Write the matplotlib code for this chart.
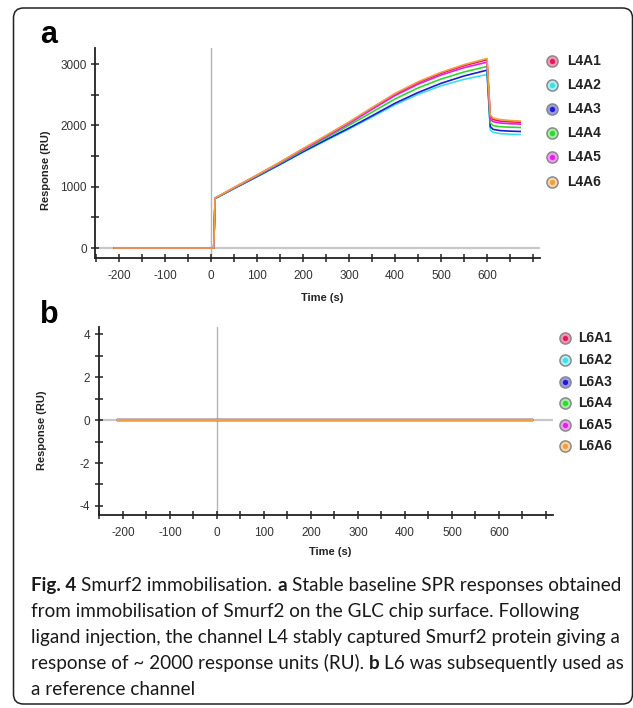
import matplotlib
matplotlib.use('Agg')
import matplotlib.pyplot as plt
from matplotlib.lines import Line2D
from matplotlib.patches import FancyBboxPatch
from matplotlib.ticker import FixedLocator
from matplotlib.transforms import IdentityTransform
from matplotlib.colors import to_rgb

plt.rcParams['font.family'] = ['Liberation Sans', 'DejaVu Sans']
plt.rcParams['axes.unicode_minus'] = False

W, H = 633, 708

# panel a - ligand channel L4 sensorgram (RU vs s)
time_a = [-210, 6, 9, 50, 100, 150, 200, 250, 300, 350, 400, 450, 500, 550, 600,
          607, 613, 628, 648, 672]
l4a1 = [0, 0, 813, 982, 1186, 1395, 1613, 1826, 2044, 2277, 2505, 2694, 2848, 2972, 3070,
        2145, 2095, 2070, 2058, 2050]
l4a2 = [0, 0, 805, 967, 1160, 1358, 1560, 1750, 1940, 2135, 2335, 2505, 2645, 2750, 2830,
        1925, 1885, 1865, 1856, 1850]
l4a3 = [0, 0, 807, 970, 1165, 1365, 1570, 1765, 1955, 2155, 2360, 2535, 2685, 2805, 2900,
        1980, 1935, 1915, 1906, 1900]
l4a4 = [0, 0, 809, 975, 1175, 1380, 1590, 1795, 2000, 2215, 2430, 2610, 2755, 2870, 2960,
        2040, 1995, 1978, 1970, 1965]
l4a5 = [0, 0, 812, 980, 1182, 1390, 1605, 1815, 2030, 2260, 2485, 2670, 2820, 2940, 3030,
        2100, 2060, 2038, 2027, 2020]
l4a6 = [0, 0, 815, 985, 1190, 1400, 1620, 1835, 2055, 2290, 2520, 2710, 2865, 2990, 3090,
        2170, 2120, 2095, 2080, 2070]
labels_a = ['L4A1', 'L4A2', 'L4A3', 'L4A4', 'L4A5', 'L4A6']

# panel b - reference channel L6 (flat)
time_b = [-210, 670]
l6a1 = [0, 0]
l6a2 = [0, 0]
l6a3 = [0, 0]
l6a4 = [0, 0]
l6a5 = [0, 0]
l6a6 = [0, 0]
labels_b = ['L6A1', 'L6A2', 'L6A3', 'L6A4', 'L6A5', 'L6A6']

colors = ['#e8175d', '#3ee0e6', '#1c1cd0', '#2fd82f', '#e81ee8', '#f0a040']


def box(l, t, r, b):
    return [l / W, 1 - b / H, (r - l) / W, (b - t) / H]


def fx(px):
    return px / W


def fy(py):
    return 1 - py / H


def tint(c, k=0.55):
    r, g, b = to_rgb(c)
    return (r + (1 - r) * k, g + (1 - g) * k, b + (1 - b) * k)


fig = plt.figure(figsize=(W / 100, H / 100), dpi=100)

ax_a = fig.add_axes(box(95, 48, 539.5, 258))
ax_b = fig.add_axes(box(98.5, 327, 552.5, 515))

for ax in (ax_a, ax_b):
    ax.spines['top'].set_visible(False)
    ax.spines['right'].set_visible(False)
    for s in ('left', 'bottom'):
        ax.spines[s].set_linewidth(1.3)
        ax.spines[s].set_color('#222222')
    ax.set_xlim(-252, 714)
    ax.xaxis.set_major_locator(FixedLocator(range(-200, 601, 100)))
    ax.xaxis.set_minor_locator(FixedLocator([-250, -150, -50, 50, 150, 250, 350, 450, 550, 650, 700]))
    ax.tick_params(which='both', direction='inout', length=6, width=1.1,
                   color='#222222', labelcolor='#333333', labelsize=8.5)
    ax.tick_params(axis='x', pad=6)
    ax.tick_params(axis='y', pad=3)
    ax.axhline(0, color='#c8c8c8', lw=1.6, zorder=0)
    ax.axvline(0, color='#b4b4b4', lw=1.0, zorder=0)

ax_a.set_ylim(-163, 3261)
ax_a.yaxis.set_major_locator(FixedLocator([0, 1000, 2000, 3000]))
ax_a.yaxis.set_minor_locator(FixedLocator([500, 1500, 2500]))
for ys, c in zip([l4a1, l4a2, l4a3, l4a4, l4a5, l4a6], colors):
    ax_a.plot(time_a, ys, color=c, lw=1.2, solid_joinstyle='round')

ax_b.set_ylim(-4.42, 4.33)
ax_b.yaxis.set_major_locator(FixedLocator([-4, -2, 0, 2, 4]))
ax_b.yaxis.set_minor_locator(FixedLocator([-3, -1, 1, 3]))
for ys, c in zip([l6a1, l6a2, l6a3, l6a4, l6a5, l6a6], colors):
    ax_b.plot(time_b, ys, color=c, lw=1.6)

# axis titles
lab_kw = dict(fontsize=8, fontweight='bold', color='#222222', ha='center', va='center')
fig.text(fx(46), fy(170), 'Response (RU)', rotation=90, **lab_kw)
fig.text(fx(42), fy(430), 'Response (RU)', rotation=90, **lab_kw)
fig.text(fx(322), fy(298), 'Time (s)', **lab_kw)
fig.text(fx(330), fy(552), 'Time (s)', **lab_kw)

# panel letters
fig.text(fx(40), fy(43), 'a', fontsize=22, fontweight='bold', va='baseline')
fig.text(fx(40), fy(323), 'b', fontsize=22, fontweight='bold', va='baseline')


# legends
def legend_col(labels, xm, xt, rows):
    for lab, c, y in zip(labels, colors, rows):
        fig.add_artist(Line2D([fx(xm)], [fy(y)], marker='o', ms=8, ls='none',
                              mfc=tint(c), mec='#8a8a8a', mew=1.1, transform=fig.transFigure))
        fig.add_artist(Line2D([fx(xm)], [fy(y)], marker='o', ms=3.8, ls='none',
                              mfc=c, mec=c, mew=0, transform=fig.transFigure))
        fig.text(fx(xt), fy(y), lab, fontsize=10, fontweight='bold', color='#222222', va='center')


legend_col(labels_a, 552, 567, [61, 85, 109, 133, 157, 182])
legend_col(labels_b, 565, 578, [338, 360, 382, 403, 425, 446])

# frame round the figure
frame = FancyBboxPatch((13.5, 4), 619, 696, boxstyle='round,pad=0,rounding_size=10',
                       transform=IdentityTransform(), fill=False, ec='#222222', lw=1.1)
fig.add_artist(frame)

# caption
cap_family = ['Lato', 'DejaVu Sans']
cap_color = '#1a1a1a'
renderer = fig.canvas.get_renderer()

cap_lines = [
    (591, [('Fig. 4', True), ('Smurf2 immobilisation.', False), ('a', True),
           ('Stable baseline SPR responses obtained', False)]),
    (617, [('from immobilisation of Smurf2 on the GLC chip surface. Following', False)]),
    (643, [('ligand injection, the channel L4 stably captured Smurf2 protein giving a', False)]),
    (669, [('response of ~ 2000 response units (RU).', False), ('b', True),
           ('L6 was subsequently used as', False)]),
    (695, [('a reference channel', False)]),
]


def measure(s, size, bold=False):
    t = fig.text(0, 0, s, fontsize=size, family=cap_family,
                 fontweight='bold' if bold else 'normal')
    w = t.get_window_extent(renderer).width
    t.remove()
    return w


def line_width(parts, size):
    sp = measure('n n', size) - measure('nn', size)
    return sum(measure(s, size, b) for s, b in parts) + sp * (len(parts) - 1)


# size the caption so its first line spans the frame like the reference
cap_size = 10 * 589 / line_width(cap_lines[0][1], 10)
space = measure('n n', cap_size) - measure('nn', cap_size)


def caption_line(y, parts, x0=31):
    x = x0
    for i, (txt, bold) in enumerate(parts):
        if i:
            x += space
        t = fig.text(fx(x), fy(y), txt, fontsize=cap_size, family=cap_family,
                     fontweight='bold' if bold else 'normal', va='baseline', color=cap_color)
        x += t.get_window_extent(renderer).width


for y, parts in cap_lines:
    caption_line(y, parts)

fig.savefig('out.png', dpi=100)
